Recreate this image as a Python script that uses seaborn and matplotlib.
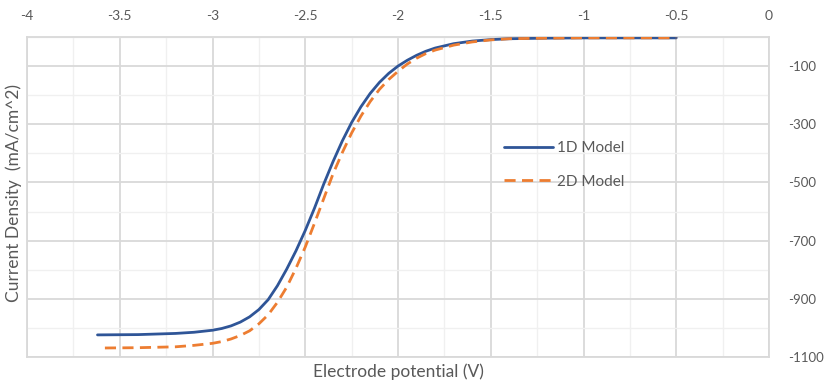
import matplotlib
matplotlib.use("Agg")
import matplotlib.pyplot as plt
from matplotlib.ticker import MultipleLocator
import seaborn as sns
import pandas as pd

# --- data ---
x_1d = [-3.62, -3.4, -3.2, -3.1, -3.0, -2.95, -2.9, -2.85, -2.8, -2.75, -2.7, -2.65,
        -2.6, -2.55, -2.5, -2.45, -2.4, -2.35, -2.3, -2.25, -2.2, -2.15, -2.1, -2.05,
        -2.0, -1.95, -1.9, -1.85, -1.8, -1.7, -1.6, -1.5, -1.4, -1.2, -1.0, -0.5]
y_1d = [-1024, -1023, -1019, -1015, -1008, -1002, -993, -980, -962, -937, -903, -855,
        -798, -735, -665, -588, -505, -428, -357, -294, -240, -194, -156, -125,
        -100, -80, -63, -49, -38, -23, -14, -9, -6, -4, -3, -3]

x_2d = [-3.58, -3.4, -3.2, -3.1, -3.0, -2.95, -2.9, -2.85, -2.8, -2.75, -2.7, -2.65,
        -2.6, -2.55, -2.5, -2.45, -2.4, -2.35, -2.3, -2.25, -2.2, -2.15, -2.1, -2.05,
        -2.0, -1.95, -1.9, -1.85, -1.8, -1.7, -1.6, -1.5, -1.4, -1.2, -1.0, -0.5]
y_2d = [-1069, -1068, -1065, -1060, -1053, -1047, -1038, -1026, -1010, -986, -955, -912,
        -860, -795, -722, -640, -555, -470, -397, -330, -272, -222, -180, -146,
        -118, -93, -73, -57, -45, -28, -17, -10, -6, -4, -3, -3]

series_names = ["1D Model", "2D Model"]
x_ticks = [-4, -3.5, -3, -2.5, -2, -1.5, -1, -0.5, 0]
y_ticks = [-1100, -900, -700, -500, -300, -100]

df = pd.concat([
    pd.DataFrame({"x": x_1d, "y": y_1d, "model": series_names[0]}),
    pd.DataFrame({"x": x_2d, "y": y_2d, "model": series_names[1]}),
], ignore_index=True)

sns.set_theme(style="white")
plt.rcParams["font.family"] = ["Lato", "DejaVu Sans"]

fig = plt.figure(figsize=(8.27, 3.83), dpi=100)
ax = fig.add_axes([27 / 827, 26 / 383, 742 / 827, 320 / 383])

grey_text = "#595959"
major_c = "#d9d9d9"
minor_c = "#f0f0f0"

sns.lineplot(data=df, x="x", y="y", hue="model", style="model",
             palette={"1D Model": "#2f5597", "2D Model": "#ed7d31"},
             dashes={"1D Model": "", "2D Model": (4.0, 2.3)},
             linewidth=2.0, sort=False, estimator=None, ax=ax, zorder=3)

ax.set_xlim(-4, 0)
ax.set_ylim(-1100, 0)
ax.set_xticks(x_ticks)
ax.set_xticklabels([f"{v:g}" for v in x_ticks])
ax.set_yticks(y_ticks)
ax.set_yticklabels([f"{v:g}" for v in y_ticks])
ax.xaxis.set_minor_locator(MultipleLocator(0.25))
ax.yaxis.set_minor_locator(MultipleLocator(100))

ax.grid(True, which="major", color=major_c, linewidth=1.3, zorder=0)
ax.grid(True, which="minor", color=minor_c, linewidth=1.0, zorder=0)
ax.set_axisbelow(True)

ax.xaxis.tick_top()
ax.yaxis.tick_right()
ax.tick_params(axis="x", which="both", length=0, pad=11, labelsize=10, labelcolor=grey_text)
ax.tick_params(axis="y", which="both", length=0, pad=14, labelsize=9.5, labelcolor=grey_text)

for s in ax.spines.values():
    s.set_color(major_c)
    s.set_linewidth(1.3)

ax.set_xlabel("")
ax.set_ylabel("")
fig.text(398 / 827, 1 - 372 / 383, "Electrode potential (V)", ha="center", va="center",
         fontsize=12.5, color=grey_text)
fig.text(14 / 827, 1 - 193 / 383, "Current Density  (mA/cm^2)", ha="center", va="center",
         rotation=90, fontsize=12.5, color=grey_text)

handles, labels = ax.get_legend_handles_labels()
leg = ax.legend(handles, labels, loc="center left",
                bbox_to_anchor=(496 / 827, 1 - 165 / 383), bbox_transform=fig.transFigure,
                frameon=False, fontsize=11, handlelength=3.2, handletextpad=0.3,
                labelspacing=1.25, borderpad=0)
for t in leg.get_texts():
    t.set_color(grey_text)

fig.savefig("out.png", dpi=100)
